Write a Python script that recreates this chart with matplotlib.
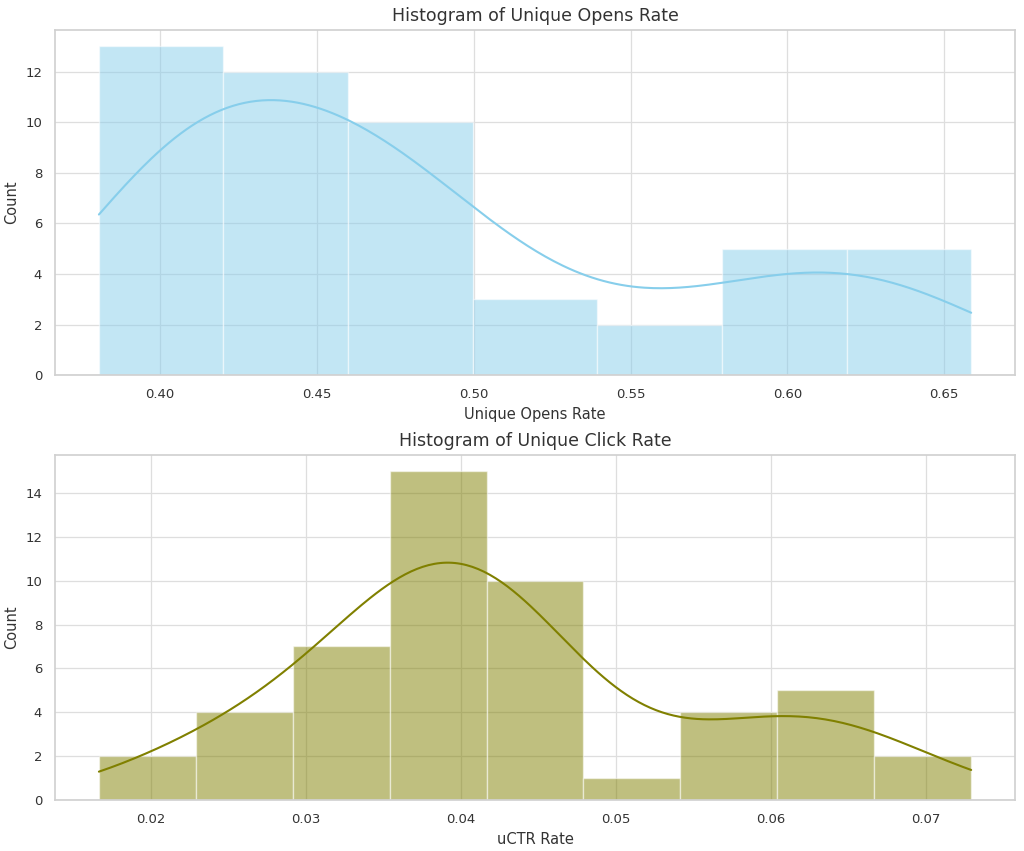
import matplotlib
matplotlib.use("Agg")
import matplotlib.pyplot as plt
import numpy as np
import seaborn as sns

# Unique opens rate: bin edges and counts
OPENS_EDGES = [0.3805, 0.4202, 0.4600, 0.4997, 0.5394, 0.5791, 0.6189, 0.6586]
OPENS_COUNTS = [13, 12, 10, 3, 2, 5, 5]

# Unique click rate (uCTR)
CLICK_EDGES = [0.01665, 0.0229, 0.02915, 0.0354, 0.04165, 0.0479,
               0.05415, 0.0604, 0.06665, 0.0729]
CLICK_COUNTS = [2, 4, 7, 15, 10, 1, 4, 5, 2]


def binned_kde(edges, counts, n_pts=300):
    """Gaussian KDE (Scott bandwidth) from binned counts, scaled to counts per bin."""
    edges = np.asarray(edges, float)
    counts = np.asarray(counts, float)
    centers = (edges[:-1] + edges[1:]) / 2
    width = np.diff(edges).mean()
    n = counts.sum()
    mean = np.sum(counts * centers) / n
    var = np.sum(counts * (centers - mean) ** 2) / n + width ** 2 / 12
    h = np.sqrt(var) * n ** (-1 / 5)
    x = np.linspace(edges[0], edges[-1], n_pts)
    z = (x[:, None] - centers[None, :]) / h
    dens = (counts * np.exp(-0.5 * z ** 2)).sum(axis=1) / (h * np.sqrt(2 * np.pi))
    return x, dens * width


def hist_panel(ax, edges, counts, color, title, xlabel):
    edges = np.asarray(edges)
    ax.bar(edges[:-1], counts, width=np.diff(edges), align="edge",
           color=color, alpha=0.5, edgecolor="white", linewidth=1)
    x, y = binned_kde(edges, counts)
    ax.plot(x, y, color=color, lw=1.5)
    ax.set_title(title, fontsize=12.5, color="0.2")
    ax.set_xlabel(xlabel, fontsize=10.5, color="0.2")
    ax.set_ylabel("Count", fontsize=10.5, color="0.2")
    ax.tick_params(labelsize=9.5, labelcolor="0.2")
    ax.grid(True, color="0.87", lw=0.9)
    for sp in ax.spines.values():
        sp.set_color("0.82")


sns.set_theme(style="whitegrid")
fig, (ax1, ax2) = plt.subplots(2, 1, figsize=(10.24, 8.51), dpi=100)

hist_panel(ax1, OPENS_EDGES, OPENS_COUNTS, "skyblue",
           "Histogram of Unique Opens Rate", "Unique Opens Rate")
hist_panel(ax2, CLICK_EDGES, CLICK_COUNTS, "olive",
           "Histogram of Unique Click Rate", "uCTR Rate")

fig.subplots_adjust(left=0.054, right=0.991, top=0.965, bottom=0.060, hspace=0.23)
fig.savefig("out.png", dpi=100, facecolor="white")
